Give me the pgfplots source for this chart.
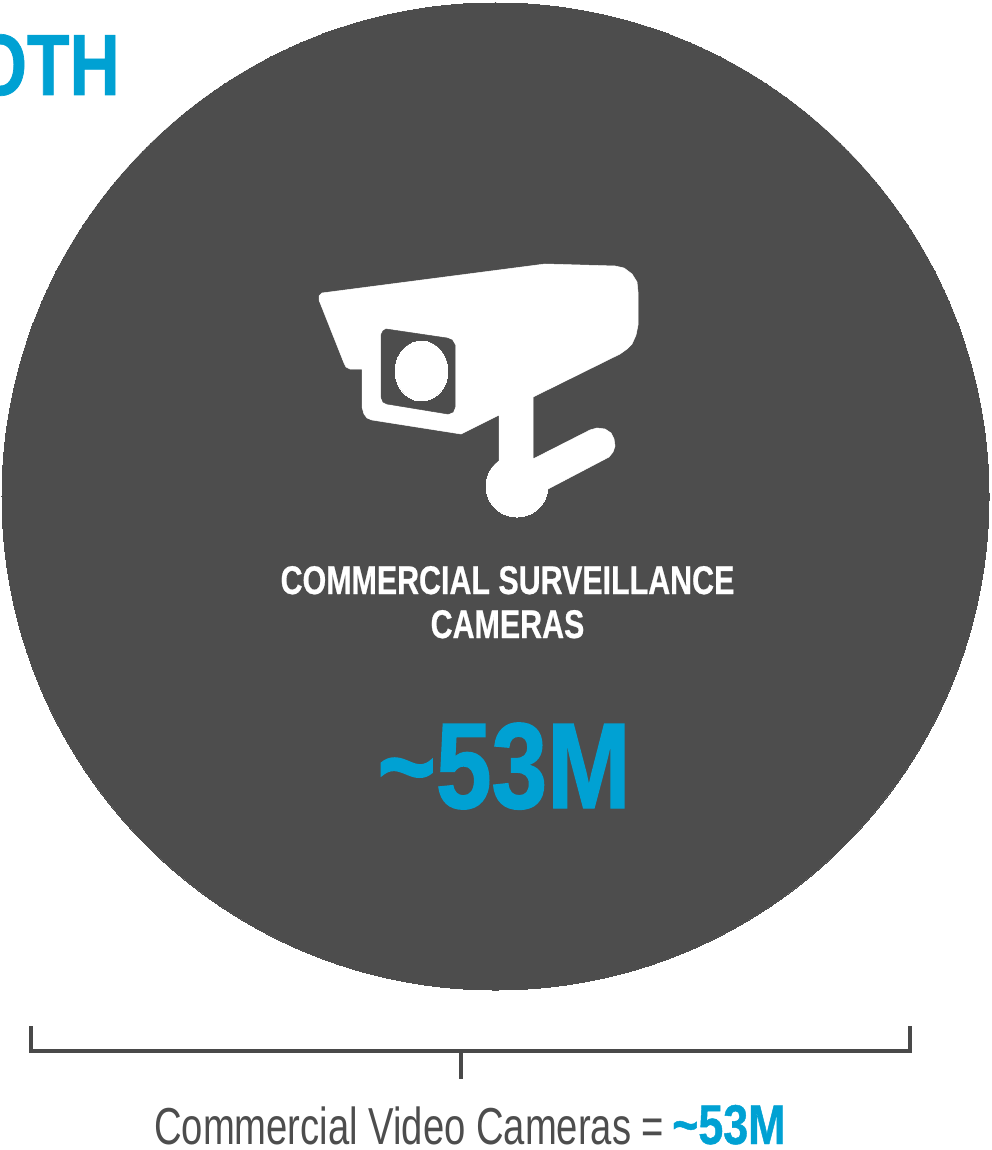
\documentclass[border=0pt]{standalone}
\usepackage{pgfplots}
\pgfplotsset{compat=1.18}
\usepackage{fontspec}
\setmainfont{Liberation Sans}
\newfontfamily\condb[FakeStretch=0.76,FakeBold=0.6]{Liberation Sans Bold}
\newfontfamily\condh[FakeStretch=0.82,FakeBold=1.2]{Liberation Sans Bold}
\newfontfamily\condm[FakeStretch=0.80,FakeBold=0.8]{Liberation Sans Bold}
\newfontfamily\condl[FakeStretch=0.735]{Liberation Sans}
\definecolor{dark}{HTML}{4D4D4D}
\definecolor{blue}{HTML}{00A1D3}
\begin{document}
\begin{tikzpicture}
\clip (0,0) rectangle (991pt,1150pt);
\begin{axis}[
  at={(0,0)}, anchor=south west,
  scale only axis, width=991pt, height=1150pt,
  xmin=0, xmax=991, ymin=0, ymax=1150, y dir=reverse,
  axis lines=none, clip mode=individual,
]
% bubble
\addplot[only marks, mark=*, mark size=493.5, mark options={fill=dark, draw=dark, line width=0pt}] coordinates {(495.5,496.5)};
% camera
\addplot[fill=white, draw=white, line width=0.5pt] coordinates {
(322,293) (545,264) (615,266) (624,268) (632,274) (637,282) (638,292) (638,325)
(636,335) (632,344) (627,349) (620,354)
(533,397) (533,459) (590,430) (597,428) (605,429) (611,433) (614,439) (615,446) (613,452) (609,457) (548,489)
(517,500) (499,461) (499,415) (461,434) (372,420) (367,418) (364,414) (362,407) (362,369)
(350,369) (346,367) (344,363) (319,300) (319,296)} -- cycle;
\addplot[only marks, mark=*, mark size=31, mark options={fill=white, draw=white, line width=0pt}] coordinates {(517,486)};
\addplot[fill=dark, draw=dark, line width=0.5pt] coordinates {
(381,335) (383,331) (386,329) (447,338) (452,340) (455,345) (455,407) (453,412) (448,414)
(387,404) (383,402) (381,397)} -- cycle;
\addplot[only marks, mark=*, mark size=30, mark options={fill=white, draw=white, line width=0pt, xscale=0.88, rotate=-15}] coordinates {(421.5,371)};
% bracket
\addplot[draw=dark!95!black, line width=3.5pt, line join=miter] coordinates {(31,1026) (31,1051) (910,1051) (910,1026)};
\addplot[draw=dark!95!black, line width=3.5pt] coordinates {(461,1051) (461,1079)};
% texts
\node[anchor=base east, inner sep=0, text=blue, font=\condm\fontsize{87}{87}\selectfont] at (axis cs:120,95) {OTH};
\node[anchor=base, inner sep=0, text=white, font=\condb\fontsize{40}{40}\selectfont] at (axis cs:507.5,594) {COMMERCIAL SURVEILLANCE};
\node[anchor=base, inner sep=0, text=white, font=\condb\fontsize{40}{40}\selectfont] at (axis cs:507.5,638) {CAMERAS};
\node[anchor=base, inner sep=0, text=blue, font=\condh\fontsize{122}{122}\selectfont] at (axis cs:504,808) {\textasciitilde53M};
\node[anchor=base west, inner sep=0, text=dark, font=\condl\fontsize{52}{52}\selectfont] at (axis cs:154,1144) {Commercial Video Cameras =};
\node[anchor=base west, inner sep=0, text=blue, font=\condm\fontsize{56}{56}\selectfont] at (axis cs:672,1144) {\textasciitilde53M};
\end{axis}
\end{tikzpicture}
\end{document}
